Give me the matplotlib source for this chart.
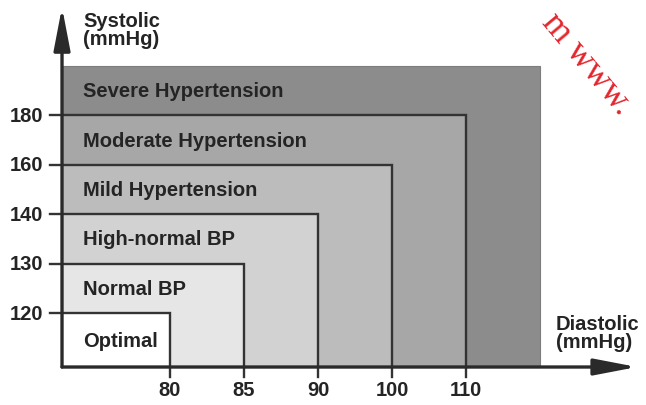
import matplotlib
matplotlib.use('Agg')
import matplotlib.pyplot as plt
from matplotlib.patches import Rectangle, FancyArrowPatch

# Blood pressure classification (nested zones)
diastolic_ticks = ['80', '85', '90', '100', '110']
systolic_ticks = ['120', '130', '140', '160', '180']
categories = ['Optimal', 'Normal BP', 'High-normal BP', 'Mild Hypertension',
              'Moderate Hypertension', 'Severe Hypertension']
zone_colors = ['#ffffff', '#e6e6e6', '#d2d2d2', '#bcbcbc', '#a7a7a7', '#8c8c8c']

plt.rcParams['font.family'] = ['Liberation Sans', 'DejaVu Sans']

fig = plt.figure(figsize=(6.46, 4.06), dpi=100)
ax = fig.add_axes([0, 0, 1, 1])
ax.set_xlim(-1.297, 7.432)
ax.set_ylim(-0.862, 7.356)
ax.axis('off')

x0, y0 = -0.459, -0.093   # origin of the arrows
line_col = '#333333'

# zones, biggest first so smaller ones sit on top
n = len(categories)
for i in reversed(range(n)):
    top = i + 1
    edge = '#7d7d7d' if i == n - 1 else 'none'
    ax.add_patch(Rectangle((x0, y0), top - x0, top - y0, facecolor=zone_colors[i],
                           edgecolor=edge, lw=0.8, zorder=1 + (n - i)))

# borders of inner zones with their tick marks
for i in range(n - 1):
    top = i + 1
    ax.plot([-0.62, top, top], [top, top, -0.296], color=line_col, lw=1.7,
            solid_joinstyle='miter', zorder=10)

# zone labels
for i, name in enumerate(categories):
    lo = y0 if i == 0 else i
    ax.text(-0.176, (lo + i + 1) / 2, name, fontsize=14.5, fontweight='bold',
            color='#242424', va='center', ha='left', zorder=12)

# tick labels
for i, lab in enumerate(systolic_ticks):
    ax.text(-0.716, i + 1, lab, fontsize=14.5, fontweight='bold', color='#242424',
            ha='right', va='center')
for i, lab in enumerate(diastolic_ticks):
    ax.text(i + 1, -0.54, lab, fontsize=14.5, fontweight='bold', color='#242424',
            ha='center', va='center')

# axes arrows
for tip in [(x0, 7.19), (7.31, y0)]:
    arr = FancyArrowPatch((x0, y0), tip, arrowstyle='-|>,head_length=1.3,head_width=0.25',
                          mutation_scale=20, lw=2.4, color='#2a2a2a',
                          shrinkA=0, shrinkB=0, zorder=11)
    ax.add_patch(arr)

ax.text(-0.176, 7.11, 'Systolic\n(mmHg)', fontsize=14.5, fontweight='bold',
        color='#242424', ha='left', va='top', linespacing=0.95)
ax.text(6.216, 0.98, 'Diastolic\n(mmHg)', fontsize=14.5, fontweight='bold',
        color='#242424', ha='left', va='top', linespacing=0.95)

# watermark
fig.text(0.838, 0.943, 'm www.', fontsize=26, color='#e3262d',
         family=['Liberation Serif', 'DejaVu Serif'], rotation=-50,
         rotation_mode='anchor', ha='left', va='baseline')

fig.savefig('out.png', dpi=100)
